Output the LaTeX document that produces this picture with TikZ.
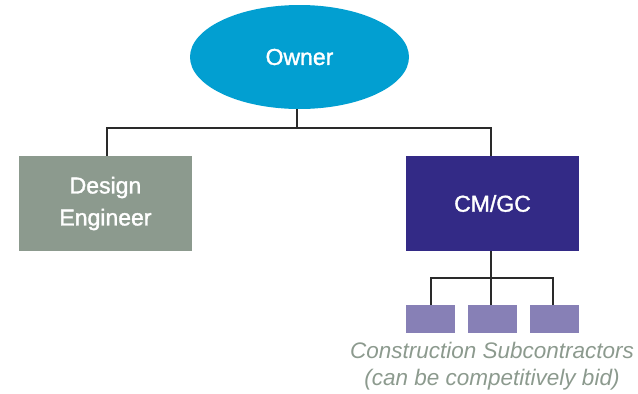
\documentclass[tikz,border=0pt]{standalone}
\usepackage{fontspec}
\setmainfont{Liberation Sans}
\newfontfamily\boxfont[FakeBold=1.5]{Liberation Sans}
\usetikzlibrary{shapes.geometric}
\definecolor{ownerblue}{HTML}{029FD1}
\definecolor{designgray}{HTML}{8C9A8E}
\definecolor{cmpurple}{HTML}{332A86}
\definecolor{subpurple}{HTML}{8780B6}
\definecolor{linegray}{HTML}{2A2A2A}
\definecolor{notegray}{HTML}{8C9A8E}
\begin{document}
\begin{tikzpicture}[x=1pt,y=-1pt,
  conn/.style={draw=linegray,line width=2.8pt},
  bigbox/.style={rectangle,minimum width=173pt,minimum height=95pt,inner sep=0pt,text=white,font=\boxfont\fontsize{23}{32}\selectfont,align=center},
  subbox/.style={rectangle,fill=subpurple,minimum width=49pt,minimum height=28pt,inner sep=0pt}]
\useasboundingbox (0,0) rectangle (638,394);
\node[ellipse,fill=ownerblue,minimum width=219pt,minimum height=104pt,inner sep=0pt,text=white,font=\boxfont\fontsize{23}{28}\selectfont] (owner) at (299.5,57) {Owner};
\node[bigbox,fill=designgray] (design) at (105.5,203.5) {Design\\Engineer};
\node[bigbox,fill=cmpurple] (cmgc) at (492.5,203.5) {CM/GC};
\node[subbox] (s1) at (430.5,319) {};
\node[subbox] (s2) at (492.5,319) {};
\node[subbox] (s3) at (554.5,319) {};
\coordinate (bus) at (297,128);
\coordinate (sbus) at (491,278);
\draw[conn] (owner.south -| bus) -- (bus);
\draw[conn,line join=miter] (design.north -| 107,0) |- (bus) -| (cmgc.north -| 491,0);
\draw[conn] (cmgc.south -| sbus) -- (s2.north -| sbus);
\draw[conn,line join=miter] (s1.north -| 431,0) |- (sbus) -| (s3.north -| 553,0);
\node[text=notegray,font=\itshape\fontsize{22.5}{27}\selectfont,align=center,anchor=north] (note) at (492,339) {Construction Subcontractors\\(can be competitively bid)};
\end{tikzpicture}
\end{document}
